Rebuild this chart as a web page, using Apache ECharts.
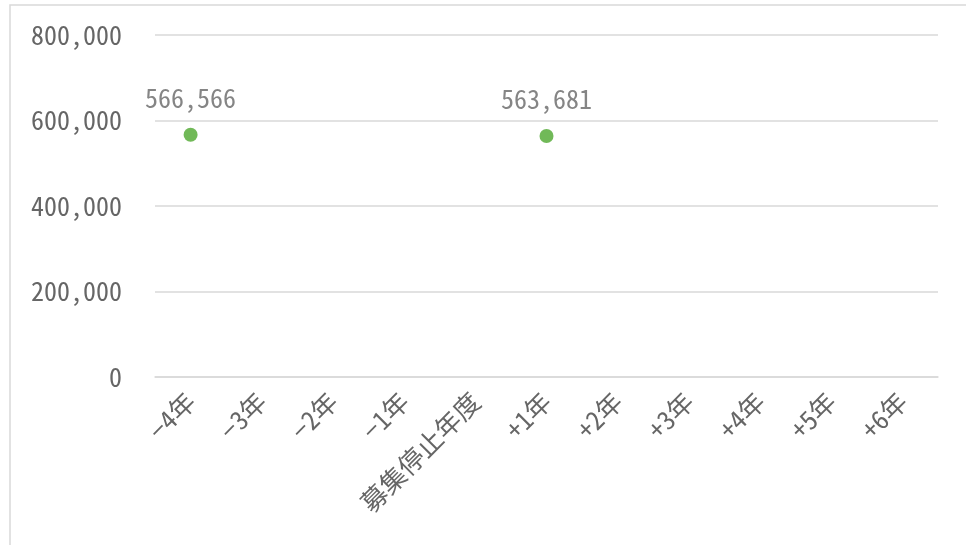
<!DOCTYPE html>
<html>
<head>
<meta charset="utf-8">
<script src="https://cdn.jsdelivr.net/npm/echarts@6/dist/echarts.min.js"></script>
<style>
html,body{margin:0;padding:0;background:#fff;}
#chart{width:966px;height:545px;}
</style>
</head>
<body>
<div id="chart"></div>
<script>
var categories = ['−4年','−3年','−2年','−1年','募集停止年度','+1年','+2年','+3年','+4年','+5年','+6年'];
var values = [566566, null, null, null, null, 563681, null, null, null, null, null];
var yTicks = [0, 200000, 400000, 600000, 800000];

var FONT = "'Noto Sans Mono CJK JP', 'Noto Sans CJK JP', monospace";
function fmt(v){ return Number(v).toLocaleString('en-US'); }

var chart = echarts.init(document.getElementById('chart'));
chart.setOption({
  animation: false,
  backgroundColor: '#ffffff',
  graphic: [{
    type: 'rect', silent: true, z: -10,
    shape: {x: 10, y: 5, width: 1000, height: 600},
    style: {fill: 'none', stroke: '#d9d9d9', lineWidth: 1.5}
  }],
  grid: {left: 155, right: 28, top: 35, bottom: 168, containLabel: false},
  xAxis: {
    type: 'category',
    data: categories,
    axisLine: {show: true, lineStyle: {color: '#d9d9d9', width: 1.5}},
    axisTick: {show: false},
    axisLabel: {rotate: 45, margin: 20, interval: 0, color: '#666666', fontSize: 26, fontFamily: FONT}
  },
  yAxis: {
    type: 'value',
    min: yTicks[0], max: yTicks[yTicks.length-1], interval: 200000,
    axisLine: {show: false},
    axisTick: {show: false},
    splitLine: {lineStyle: {color: '#d9d9d9', width: 1.5}},
    axisLabel: {margin: 33, color: '#666666', fontSize: 26, fontFamily: FONT, formatter: fmt}
  },
  series: [{
    type: 'scatter',
    data: values.map(function(v){ return v == null ? '-' : v; }),
    symbol: 'circle',
    symbolSize: 14,
    itemStyle: {color: '#4ea72e'},
    label: {
      show: true, position: 'top', distance: 17,
      color: '#666666', fontSize: 26, fontFamily: FONT,
      formatter: function(p){ return fmt(p.value); }
    }
  }]
});
</script>
</body>
</html>
